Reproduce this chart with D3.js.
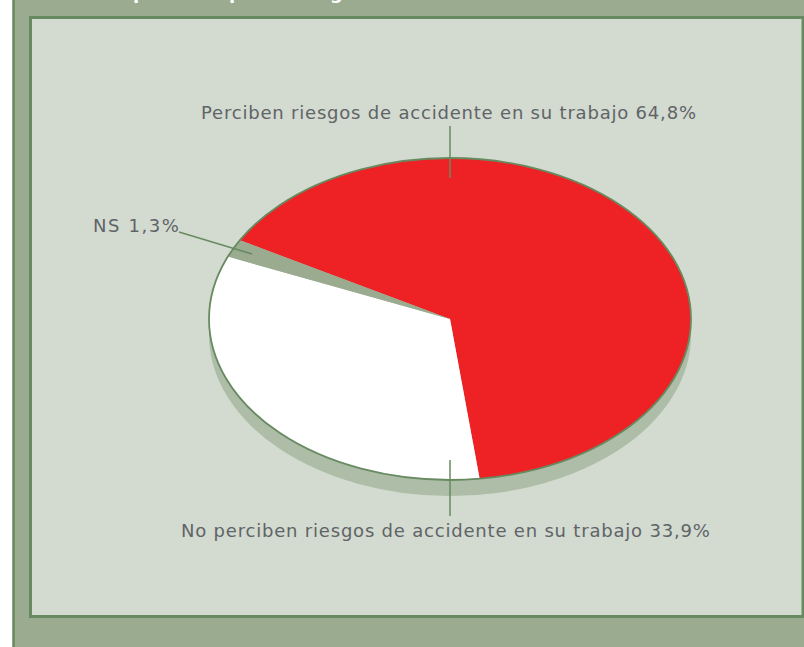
<!DOCTYPE html>
<html><head><meta charset="utf-8">
<script src="https://cdn.jsdelivr.net/npm/d3@7"></script>
<style>html,body{margin:0;padding:0;background:#fff}svg{display:block}
text{font-family:"DejaVu Sans",Verdana,sans-serif}</style></head>
<body><svg id="c" width="804" height="647"></svg>
<script>
const categories = ["Perciben riesgos de accidente en su trabajo","No perciben riesgos de accidente en su trabajo","NS"];
// slice sizes as actually drawn in the picture (measured from the wedge angles)
const shares = [64.9, 33.3, 1.8];
// percentages as printed on the labels
const shareLabels = ["64,8%","33,9%","1,3%"];
const sliceColors = ["#ee2224","#ffffff","#9aab8f"];
const titleGlyphs = ["p","p","g"];

const svg = d3.select("#c");
const W = 804, H = 647;
const green = "#678a60";
svg.append("rect").attr("x",13.5).attr("y",-5).attr("width",W).attr("height",H+10)
  .attr("fill","#9aab8f").attr("stroke",green).attr("stroke-width",2.5);
svg.append("rect").attr("x",30.5).attr("y",17.5).attr("width",772.5).attr("height",599)
  .attr("fill","#d3dacf").attr("stroke",green).attr("stroke-width",3);

// only the descenders of the cropped title are visible in the reference
svg.selectAll("text.title").data(titleGlyphs).join("text").attr("class","title")
  .attr("x",(d,i)=>[133,229,330][i]).attr("y",-1.5)
  .attr("font-size",18).attr("font-weight","bold").attr("fill","#fff").text(d=>d);

const cx=450, cy=319, rx=241, ry=161, depth=16;
svg.append("ellipse").attr("cx",cx).attr("cy",cy+depth).attr("rx",rx).attr("ry",ry).attr("fill","#adbda7");

const start = -60.7*Math.PI/180;
const pie = d3.pie().sort(null).startAngle(start).endAngle(start+2*Math.PI)(shares);
const arc = d3.arc().innerRadius(0).outerRadius(1);
const g = svg.append("g").attr("transform",`translate(${cx},${cy}) scale(${rx},${ry})`);
g.selectAll("path").data(pie).join("path").attr("d",arc).attr("fill",(d,i)=>sliceColors[i]);
svg.append("ellipse").attr("cx",cx).attr("cy",cy).attr("rx",rx).attr("ry",ry)
  .attr("fill","none").attr("stroke",green).attr("stroke-width",1.8);

const leaders = [[[450,126],[450,178]],[[450,460],[450,516]],[[179,232],[252,254]]];
svg.selectAll("line.l").data(leaders).join("line").attr("class","l")
  .attr("x1",d=>d[0][0]).attr("y1",d=>d[0][1]).attr("x2",d=>d[1][0]).attr("y2",d=>d[1][1])
  .attr("stroke",green).attr("stroke-width",1.5);

const labels = [[201,118.5,0.8],[181,537,0.8],[93,232,1.6]];
svg.selectAll("text.t").data(labels).join("text").attr("class","t")
  .attr("x",d=>d[0]).attr("y",d=>d[1])
  .attr("font-size",18).attr("letter-spacing",d=>d[2]).attr("fill","#5f6468")
  .text((d,i)=>categories[i]+" "+shareLabels[i]);
</script></body></html>
